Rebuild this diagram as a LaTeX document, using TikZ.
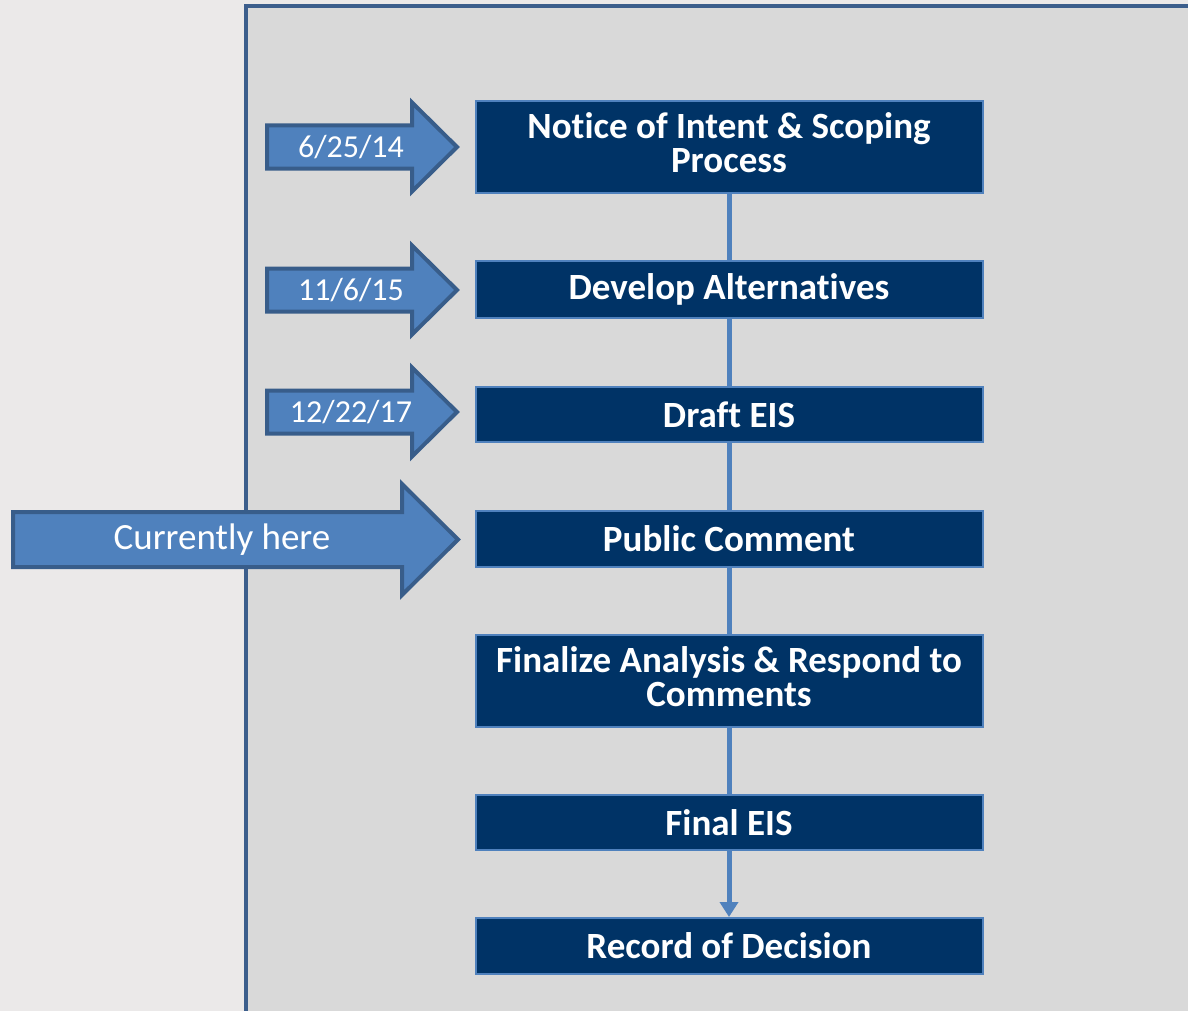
\documentclass[tikz,border=0pt]{standalone}
\usepackage{fontspec}
\setmainfont{Carlito}[Ligatures={TeX,NoCommon}]
\usetikzlibrary{arrows.meta}

\definecolor{pagegray}{RGB}{235,233,233}
\definecolor{panelgray}{RGB}{217,217,217}
\definecolor{panelline}{RGB}{60,94,140}
\definecolor{navy}{RGB}{0,51,102}
\definecolor{stepblue}{RGB}{79,129,189}
\definecolor{arrowline}{RGB}{56,93,138}

\tikzset{
  stage/.style={draw=stepblue, line width=1pt, fill=navy, text=white,
    font=\bfseries\fontsize{18.5}{17}\selectfont, align=center,
    minimum width=253.5pt, inner sep=0pt},
  datearrow/.style={draw=arrowline, line width=2pt, fill=stepblue, line join=miter},
  datetext/.style={text=white, font=\fontsize{16}{18}\selectfont, inner sep=0pt},
  link/.style={draw=stepblue, line width=2.5pt}
}

\begin{document}
\begin{tikzpicture}[x=0.5pt,y=-0.5pt]
\useasboundingbox (0,0) rectangle (1188,1011);

% page and the grey panel
\fill[pagegray] (0,0) rectangle (1188,1011);
\fill[panelgray] (246,6) rectangle (1188,1011);
\draw[panelline, line width=2pt] (246,1011) -- (246,6) -- (1188,6);

% the process steps
\node[stage, minimum height=46pt] (notice) at (729,147) {Notice of Intent \& Scoping\\Process\rule[-4pt]{0pt}{1pt}};
\node[stage, minimum height=28.5pt] (develop) at (729,289.5) {Develop Alternatives};
\node[stage, minimum height=27.5pt] (draft) at (729,414.5) {Draft EIS};
\node[stage, minimum height=28pt] (public) at (729,539) {Public Comment};
\node[stage, minimum height=46pt] (finalize) at (729,681) {Finalize Analysis \& Respond to\\Comments\rule[-4pt]{0pt}{1pt}};
\node[stage, minimum height=27.5pt] (final) at (729,822.5) {Final EIS};
\node[stage, minimum height=28pt] (record) at (729,946) {Record of Decision};

% lines between the steps
\foreach \a/\b in {notice/develop, develop/draft, draft/public, public/finalize, finalize/final}
\draw[link] (\a.south) -- (\b.north);
\draw[link, -{Triangle[length=7.5pt,width=9pt]}] (final.south) -- (record.north);

% date arrows
\foreach \y/\d/\n in {147/{6/25/14}/one, 290/{11/6/15}/two, 412/{12/22/17}/three}{
\draw[datearrow] (267,\y-21.5) -- (412,\y-21.5) -- (412,\y-44.5) -- (457,\y)
  -- (412,\y+44.5) -- (412,\y+21.5) -- (267,\y+21.5) -- cycle;
\node[datetext] (date\n) at (351,\y) {\d};
}

% where we are now
\draw[datearrow] (13,512) -- (402,512) -- (402,484) -- (458,539.5)
  -- (402,595) -- (402,567) -- (13,567) -- cycle;
\node[datetext, font=\fontsize{18.5}{20}\selectfont] (now) at (222,540) {Currently here};
\end{tikzpicture}
\end{document}
